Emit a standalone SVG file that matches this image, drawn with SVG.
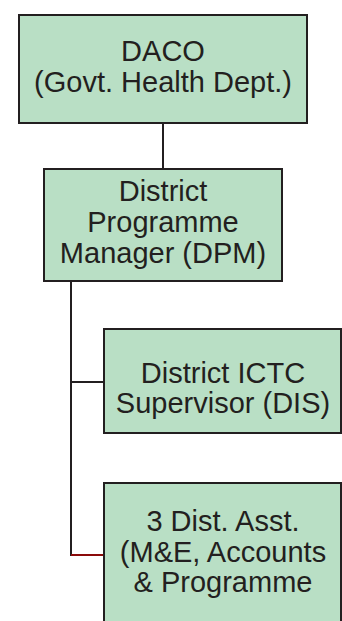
<svg xmlns="http://www.w3.org/2000/svg" width="342" height="621" viewBox="0 0 342 621">
<style>
.box{fill:#b9dfc5;stroke:#231f20;stroke-width:2}
.t{font-family:"Liberation Sans",Arial,sans-serif;font-size:29px;fill:#231f20;text-anchor:middle}
.c{fill:none;stroke:#231f20;stroke-width:2}
</style>
<rect width="342" height="621" fill="#ffffff"/>
<g id="connectors">
<line class="c" x1="163" y1="123" x2="163" y2="169"/>
<line class="c" x1="71" y1="281" x2="71" y2="556"/>
<line class="c" x1="71" y1="382" x2="104" y2="382"/>
<line x1="71" y1="555" x2="104" y2="555" stroke="#8b0a0a" stroke-width="2"/>
</g>
<g id="daco">
<rect class="box" x="19" y="15" width="288" height="108"/>
<text class="t" x="163" y="61">DACO</text>
<text class="t" x="163" y="92">(Govt. Health Dept.)</text>
</g>
<g id="dpm">
<rect class="box" x="44" y="169" width="238" height="112"/>
<text class="t" x="163" y="201">District</text>
<text class="t" x="163" y="232">Programme</text>
<text class="t" x="163" y="263">Manager (DPM)</text>
</g>
<g id="dis">
<rect class="box" x="104" y="329" width="237" height="104"/>
<text class="t" x="223" y="383">District ICTC</text>
<text class="t" x="223" y="413">Supervisor (DIS)</text>
</g>
<g id="asst">
<rect class="box" x="104" y="483" width="237" height="160"/>
<text class="t" x="223" y="531">3 Dist. Asst.</text>
<text class="t" x="223" y="562">(M&amp;E, Accounts</text>
<text class="t" x="223" y="592">&amp; Programme</text>
</g>
</svg>
